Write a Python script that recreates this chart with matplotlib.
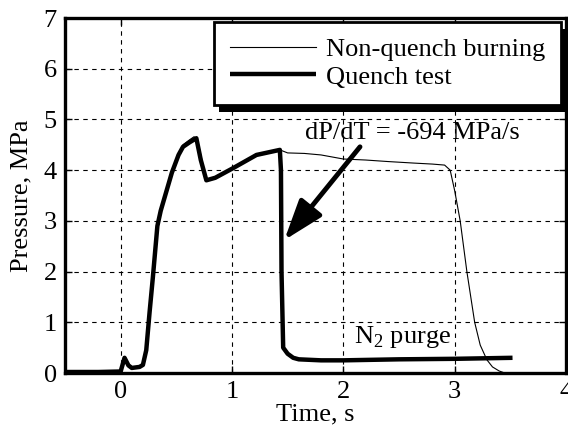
import matplotlib
matplotlib.use("Agg")
import matplotlib.pyplot as plt
from matplotlib.patches import Rectangle
from matplotlib.transforms import IdentityTransform

plt.rcParams['font.family'] = ['Liberation Serif', 'DejaVu Serif']
plt.rcParams['mathtext.fontset'] = 'custom'
plt.rcParams['mathtext.rm'] = 'Liberation Serif'

# Non-quench burning (thin)
t_nq = [-0.5, -0.2, 0.0, 0.03, 0.06, 0.1, 0.17, 0.2, 0.23, 0.26, 0.29, 0.31, 0.33, 0.36, 0.4,
        0.46, 0.52, 0.56, 0.62, 0.66, 0.7, 0.74, 0.77, 0.85, 1.01, 1.22, 1.43, 1.5, 1.65, 1.8,
        2.0, 2.2, 2.4, 2.63, 2.8, 2.91, 2.96, 3.0, 3.05, 3.11, 3.18, 3.23, 3.29, 3.34, 3.4, 3.45]
p_nq = [0.04, 0.04, 0.05, 0.32, 0.2, 0.12, 0.12, 0.18, 0.5, 1.25, 1.95, 2.45, 2.95, 3.25, 3.55,
        4.0, 4.33, 4.5, 4.6, 4.66, 4.5, 4.1, 3.8, 3.85, 4.04, 4.3, 4.4, 4.34, 4.33, 4.3,
        4.22, 4.2, 4.17, 4.14, 4.12, 4.1, 4.0, 3.6, 3.0, 2.0, 1.0, 0.55, 0.26, 0.12, 0.04, 0.0]

# Quench test (thick)
t_q = [-0.5, -0.2, 0.0, 0.035, 0.07, 0.1, 0.17, 0.2, 0.23, 0.26, 0.29, 0.31, 0.33, 0.36, 0.4,
       0.46, 0.52, 0.56, 0.62, 0.68, 0.72, 0.77, 0.85, 1.01, 1.22, 1.43, 1.44, 1.445, 1.46,
       1.5, 1.55, 1.6, 1.8, 2.0, 2.5, 3.0, 3.52]
p_q = [0.02, 0.02, 0.03, 0.3, 0.15, 0.1, 0.12, 0.16, 0.45, 1.2, 1.9, 2.4, 2.9, 3.2, 3.5,
       3.95, 4.3, 4.46, 4.55, 4.63, 4.2, 3.8, 3.85, 4.04, 4.3, 4.4, 4.0, 2.0, 0.5,
       0.38, 0.3, 0.27, 0.25, 0.25, 0.27, 0.28, 0.3]

x_ticks = [0, 1, 2, 3, 4]
y_ticks = [0, 1, 2, 3, 4, 5, 6, 7]

FS = 19
fig = plt.figure(figsize=(5.68, 4.29), dpi=100)
ax = fig.add_axes([0.1144, 0.1305, 0.8820, 0.8275])

ax.plot(t_nq, p_nq, color='black', lw=0.8, label='Non-quench burning', zorder=3)
ax.plot(t_q, p_q, color='black', lw=3.2, label='Quench test', zorder=4,
        solid_joinstyle='round', solid_capstyle='butt')

ax.set_xlim(-0.5, 4)
ax.set_ylim(0, 7)
ax.set_xticks(x_ticks)
ax.set_yticks(y_ticks)
ax.tick_params(direction='in', length=5, width=1, labelsize=FS, top=True, right=True, pad=6)
ax.grid(True, color='black', linestyle=(0, (4, 4)), linewidth=0.8)
for s in ax.spines.values():
    s.set_linewidth(2.4)

ax.set_xlabel('Time, s', fontsize=FS, labelpad=0)
ax.set_ylabel('Pressure, MPa', fontsize=FS, labelpad=8)

leg = ax.legend(loc='upper right', fontsize=FS, frameon=True, fancybox=False, shadow=False,
                handlelength=3.25, handletextpad=0.38, borderpad=0.6, labelspacing=0.15,
                bbox_to_anchor=(561 / 568, 1 - 22 / 429), bbox_transform=fig.transFigure,
                borderaxespad=0.0)
leg.get_frame().set_edgecolor('black')
leg.get_frame().set_linewidth(2.0)
leg.get_frame().set_alpha(1)
leg.set_zorder(10)

fig.canvas.draw()
bb = leg.get_window_extent()
shadow = Rectangle((bb.x0 + 5, bb.y0 - 7), bb.width, bb.height, transform=IdentityTransform(),
                   facecolor='black', edgecolor='none', zorder=9, clip_on=False)
ax.add_artist(shadow)

ax.text(2.62, 4.62, 'dP/dT = -694 MPa/s', fontsize=FS, ha='center', va='baseline')
ax.annotate('', xy=(1.47, 2.62), xytext=(2.15, 4.46),
            arrowprops=dict(arrowstyle='-|>,head_length=1.3,head_width=0.45', color='black', lw=3.5,
                            shrinkA=0, shrinkB=0, mutation_scale=19))
ax.text(2.53, 0.72, r'N$_2$ purge', fontsize=FS, ha='center', va='center')

fig.savefig('out.png', dpi=100)
